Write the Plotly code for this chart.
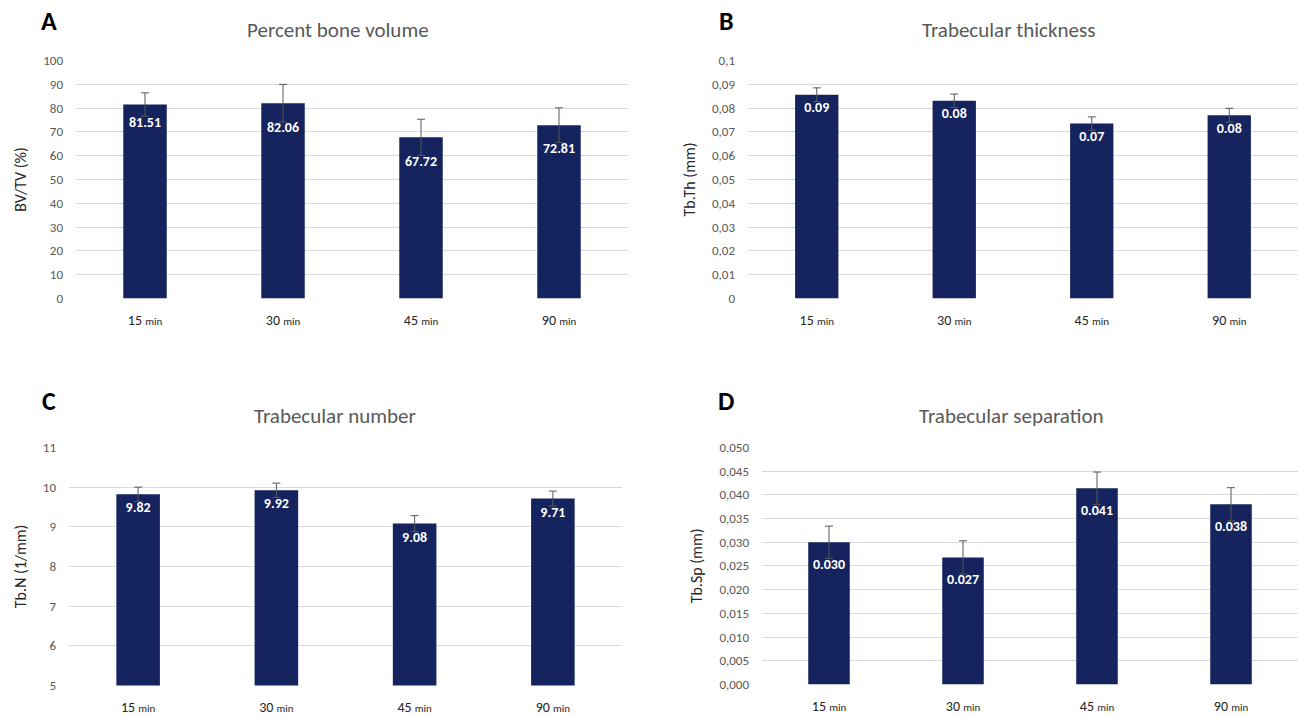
import plotly.graph_objects as go

# ---------------- data ----------------
categories = ["15", "30", "45", "90"]
cat_labels = ["15 <span style='font-size:11px'>min</span>",
              "30 <span style='font-size:11px'>min</span>",
              "45 <span style='font-size:11px'>min</span>",
              "90 <span style='font-size:11px'>min</span>"]

bvtv = [81.51, 82.06, 67.72, 72.81]
bvtv_err = [4.9, 7.9, 7.6, 7.3]

tbth = [0.0856, 0.0831, 0.0735, 0.0770]
tbth_err = [0.0029, 0.0028, 0.0028, 0.0029]

tbn = [9.82, 9.92, 9.08, 9.71]
tbn_err = [0.18, 0.18, 0.20, 0.19]

tbsp = [0.0300, 0.0268, 0.0414, 0.0380]
tbsp_err = [0.0034, 0.0035, 0.0034, 0.0035]

a_ticks = [0, 10, 20, 30, 40, 50, 60, 70, 80, 90, 100]
a_ticktext = ["0", "10", "20", "30", "40", "50", "60", "70", "80", "90", "100"]
b_ticks = [0, 0.01, 0.02, 0.03, 0.04, 0.05, 0.06, 0.07, 0.08, 0.09, 0.1]
b_ticktext = ["0", "0,01", "0,02", "0,03", "0,04", "0,05", "0,06", "0,07", "0,08", "0,09", "0,1"]
c_ticks = [5, 6, 7, 8, 9, 10, 11]
c_ticktext = ["5", "6", "7", "8", "9", "10", "11"]
d_ticks = [0, 0.005, 0.01, 0.015, 0.02, 0.025, 0.03, 0.035, 0.04, 0.045, 0.05]
d_ticktext = ["0,000", "0,005", "0,010", "0,015", "0,020", "0,025", "0,030",
              "0,035", "0,040", "0,045", "0,050"]

titles = ["Percent bone volume", "Trabecular thickness", "Trabecular number", "Trabecular separation"]
ytitles = ["BV/TV (%)", "Tb.Th (mm)", "Tb.N (1/mm)", "Tb.Sp (mm)"]
letters = ["A", "B", "C", "D"]

# ---------------- style ----------------
W, H = 1299, 716
FONT = "Carlito, Lato, sans-serif"
BAR = "#15235E"
GRID = "#D9D9D9"
TICK = "#595959"
ERR = "#595959"


def vy(y):
    # vertical placement helper (pixel from top)
    return (y - 7.5) / 0.975


panels = [
    dict(vals=bvtv, err=bvtv_err, fmt=".2f", rng=[0, 100], tv=a_ticks, tt=a_ticktext,
         xd=[76, 628], yd=[61, 299], title=(338, 31), letter=(49, 22), bw=0.315),
    dict(vals=tbth, err=tbth_err, fmt=".2f", rng=[0, 0.1], tv=b_ticks, tt=b_ticktext,
         xd=[748, 1298], yd=[61, 299], title=(1008, 31), letter=(726, 22), bw=0.315),
    dict(vals=tbn, err=tbn_err, fmt=".2f", rng=[5, 11], tv=c_ticks, tt=c_ticktext,
         xd=[69, 622], yd=[448, 686], title=(335, 417), letter=(49, 402), bw=0.315),
    dict(vals=tbsp, err=tbsp_err, fmt=".3f", rng=[0, 0.05], tv=d_ticks, tt=d_ticktext,
         xd=[762, 1298], yd=[448, 685], title=(1011, 417), letter=(726, 402), bw=0.31),
]

fig = go.Figure()
annotations = []
layout = {}

for i, p in enumerate(panels):
    n = "" if i == 0 else str(i + 1)
    xa, ya = "x" + n, "y" + n
    fig.add_trace(go.Bar(
        x=categories, y=p["vals"], width=p["bw"], xaxis=xa, yaxis=ya,
        marker=dict(color=BAR, line=dict(width=0)),
        error_y=dict(type="data", array=p["err"], visible=True,
                     color=ERR, thickness=1, width=4),
        showlegend=False, hoverinfo="skip",
    ))
    lab_y = [v - e for v, e in zip(p["vals"], p["err"])]
    fig.add_trace(go.Scatter(
        x=categories, y=lab_y, mode="text", xaxis=xa, yaxis=ya,
        text=[format(v, p["fmt"]) for v in p["vals"]],
        textposition="bottom center",
        textfont=dict(family=FONT, size=14, color="white", weight="bold"),
        showlegend=False, hoverinfo="skip", cliponaxis=False,
    ))
    layout["xaxis" + n] = dict(
        domain=[p["xd"][0] / W, p["xd"][1] / W], anchor=ya,
        type="category", tickvals=categories, ticktext=cat_labels,
        showgrid=False, zeroline=False, showline=False, ticks="",
        ticklabelstandoff=12,
        tickfont=dict(family=FONT, size=14, color="#262626"),
    )
    y0, y1 = vy(p["yd"][0]), vy(p["yd"][1])
    layout["yaxis" + n] = dict(
        domain=[1 - y1 / H, 1 - y0 / H], anchor=xa,
        range=p["rng"], tickvals=p["tv"], ticktext=p["tt"],
        showgrid=True, gridcolor=GRID, gridwidth=1.3, zeroline=False, showline=False,
        ticks="", ticklabelstandoff=12,
        tickfont=dict(family=FONT, size=13, color=TICK),
        title=dict(text=ytitles[i], font=dict(family=FONT, size=16, color="#262626"),
                   standoff=12),
    )
    annotations.append(dict(
        text=titles[i], x=p["title"][0] / W, y=1 - vy(p["title"][1]) / H,
        xref="paper", yref="paper", xanchor="center", yanchor="middle", showarrow=False,
        font=dict(family=FONT, size=21, color="#595959"),
    ))
    annotations.append(dict(
        text="<b>" + letters[i] + "</b>", x=p["letter"][0] / W, y=1 - vy(p["letter"][1]) / H,
        xref="paper", yref="paper", xanchor="center", yanchor="middle", showarrow=False,
        font=dict(family=FONT, size=26, color="black"),
    ))

fig.update_layout(
    width=W, height=H,
    margin=dict(l=0, r=0, t=0, b=0),
    paper_bgcolor="white", plot_bgcolor="white",
    bargap=0.5,
    annotations=annotations,
    font=dict(family=FONT),
    **layout,
)

fig.write_html("out.html",
               config={"displayModeBar": False},
               post_script="document.body.style.margin='0';document.body.style.overflow='hidden';")
